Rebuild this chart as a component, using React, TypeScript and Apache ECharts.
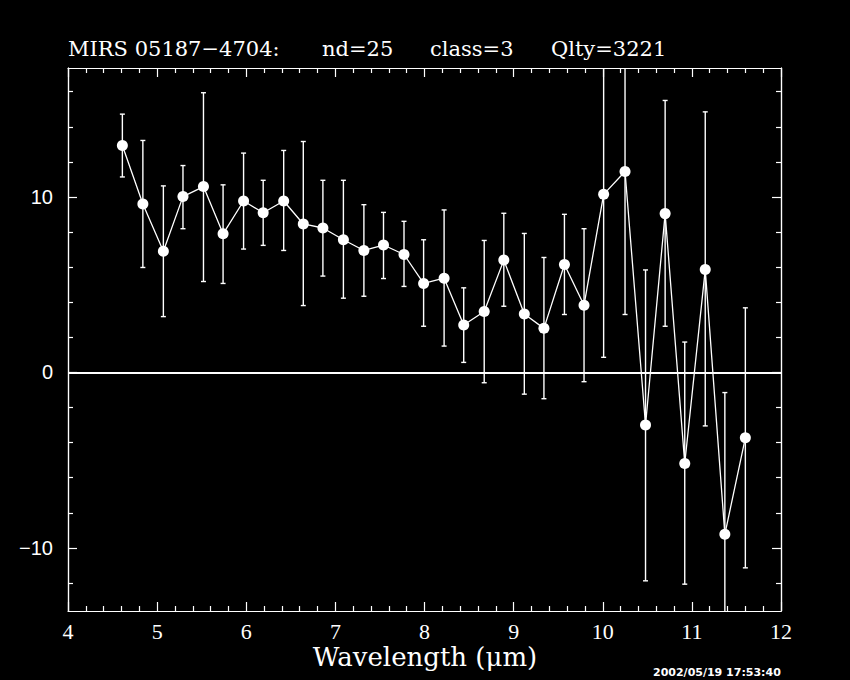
import React, { useEffect, useRef } from "react";
import * as echarts from "echarts";

const wavelength = [4.61, 4.84, 5.07, 5.29, 5.52, 5.74, 5.97, 6.19, 6.42, 6.64, 6.86, 7.09, 7.32, 7.54, 7.77, 7.99, 8.22, 8.44, 8.67, 8.89, 9.12, 9.34, 9.57, 9.79, 10.01, 10.25, 10.48, 10.70, 10.92, 11.15, 11.37, 11.60];
const flux = [12.93, 9.60, 6.91, 10.02, 10.59, 7.90, 9.77, 9.10, 9.77, 8.46, 8.23, 7.56, 6.95, 7.26, 6.72, 5.07, 5.37, 2.70, 3.47, 6.40, 3.33, 2.51, 6.15, 3.83, 10.15, 11.45, -3.00, 9.05, -5.19, 5.86, -9.23, -3.73];
const errHigh = [14.72, 13.22, 10.63, 11.79, 15.94, 10.69, 12.50, 10.95, 12.65, 13.16, 10.95, 10.95, 9.56, 9.12, 8.61, 7.56, 9.26, 4.82, 7.52, 9.07, 7.92, 6.55, 9.01, 8.19, 19.44, 19.60, 5.84, 15.50, 1.73, 14.85, -1.15, 3.68];
const errLow = [11.14, 5.98, 3.18, 8.19, 5.18, 5.07, 7.03, 7.24, 6.95, 3.81, 5.49, 4.23, 4.34, 5.35, 4.90, 2.63, 1.50, 0.57, -0.59, 3.77, -1.24, -1.50, 3.30, -0.53, 0.86, 3.30, -11.88, 2.63, -12.07, -3.05, -17.31, -11.14];

const yMajorTicks = [-10, 0, 10];
const yMinorTicks = [-12, -8, -6, -4, -2, 2, 4, 6, 8, 12, 14, 16];
const xMin = 4;
const xMax = 12;
const yMin = -13.6;
const yMax = 17.35;

const titleParts = [
  { text: "MIRS 05187\u22124704:", x: 68 },
  { text: "nd=25", x: 322 },
  { text: "class=3", x: 430 },
  { text: "Qlty=3221", x: 551 },
];
const xAxisTitle = "Wavelength (\u03bcm)";
const timestamp = "2002/05/19 17:53:40";

const WHITE = "#ffffff";

export default function App() {
  const ref = useRef<HTMLDivElement>(null);
  useEffect(() => {
    document.body.style.margin = "0";
    document.body.style.background = "#000";
    if (!ref.current) return;
    const chart = echarts.init(ref.current, null, { renderer: "svg" });

    const linePts = wavelength.map((x, i) => [x, flux[i]]);
    const errPts = wavelength.map((x, i) => [x, errLow[i], errHigh[i]]);

    const yBase = (pos: string, ticks: number[], len: number, showLabel: boolean) => ({
      type: "value",
      position: pos,
      min: yMin,
      max: yMax,
      splitLine: { show: false },
      axisLine: { show: true, onZero: false, lineStyle: { color: WHITE, width: 1.2 } },
      axisTick: { show: true, inside: true, length: len, customValues: ticks, lineStyle: { color: WHITE, width: 1.2 } },
      axisLabel: {
        show: showLabel,
        customValues: ticks,
        margin: 15,
        color: WHITE,
        fontFamily: "Liberation Sans",
        fontSize: 20,
        formatter: (v: number) => (v < 0 ? "\u2212" + Math.abs(v) : String(v)),
      },
    });

    const xBase = (pos: string, showLabel: boolean) => ({
      type: "value",
      position: pos,
      min: xMin,
      max: xMax,
      interval: 1,
      splitLine: { show: false },
      axisLine: { show: true, onZero: false, lineStyle: { color: WHITE, width: 1.2 } },
      axisTick: { show: true, inside: true, length: 9, lineStyle: { color: WHITE, width: 1.2 } },
      minorTick: { show: true, splitNumber: 5, length: 5, lineStyle: { color: WHITE, width: 1.2 } },
      axisLabel: {
        show: showLabel,
        margin: 9,
        color: WHITE,
        fontFamily: "Liberation Serif",
        fontSize: 22,
      },
    });

    const option: any = {
      animation: false,
      backgroundColor: "#000000",
      grid: { left: 68, right: 69, top: 68, bottom: 69, containLabel: false },
      xAxis: [xBase("bottom", true), xBase("top", false)],
      yAxis: [
        yBase("left", yMajorTicks, 9, true),
        yBase("left", yMinorTicks, 5, false),
        yBase("right", yMajorTicks, 9, false),
        yBase("right", yMinorTicks, 5, false),
      ],
      graphic: [
        ...titleParts.map((p) => ({
          type: "text",
          left: p.x,
          top: 38,
          style: { text: p.text, fill: WHITE, font: "21px 'DejaVu Serif'" },
        })),
        {
          type: "text",
          left: "center",
          top: 644,
          style: { text: xAxisTitle, fill: WHITE, font: "26px 'DejaVu Serif'" },
        },
        {
          type: "text",
          left: 653,
          top: 667,
          style: { text: timestamp, fill: WHITE, font: "bold 11px 'DejaVu Sans'" },
        },
      ],
      series: [
        {
          type: "custom",
          xAxisIndex: 0,
          yAxisIndex: 0,
          clip: true,
          z: 2,
          data: errPts,
          renderItem: (params: any, api: any) => {
            const x = api.value(0);
            const lo = api.value(1);
            const hi = api.value(2);
            const cs = params.coordSys;
            const top = cs.y;
            const bottom = cs.y + cs.height;
            const pHi = api.coord([x, hi]);
            const pLo = api.coord([x, lo]);
            const cx = pHi[0];
            const yHi = Math.max(top, pHi[1]);
            const yLo = Math.min(bottom, pLo[1]);
            const style = { stroke: WHITE, lineWidth: 1.4 };
            const children: any[] = [
              { type: "line", shape: { x1: cx, y1: yHi, x2: cx, y2: yLo }, style },
            ];
            const cap = 2.5;
            if (pHi[1] >= top) children.push({ type: "line", shape: { x1: cx - cap, y1: pHi[1], x2: cx + cap, y2: pHi[1] }, style });
            if (pLo[1] <= bottom) children.push({ type: "line", shape: { x1: cx - cap, y1: pLo[1], x2: cx + cap, y2: pLo[1] }, style });
            return { type: "group", children };
          },
        },
        {
          type: "line",
          xAxisIndex: 0,
          yAxisIndex: 0,
          data: linePts,
          z: 3,
          symbol: "circle",
          symbolSize: 11,
          showSymbol: true,
          itemStyle: { color: WHITE },
          lineStyle: { color: WHITE, width: 1.3 },
          markLine: {
            silent: true,
            symbol: "none",
            label: { show: false },
            lineStyle: { color: WHITE, width: 2, type: "solid" },
            data: [{ yAxis: 0 }],
          },
        },
      ],
    };
    chart.setOption(option);
    return () => chart.dispose();
  }, []);
  return <div ref={ref} style={{ width: 850, height: 680, background: "#000" }} />;
}
